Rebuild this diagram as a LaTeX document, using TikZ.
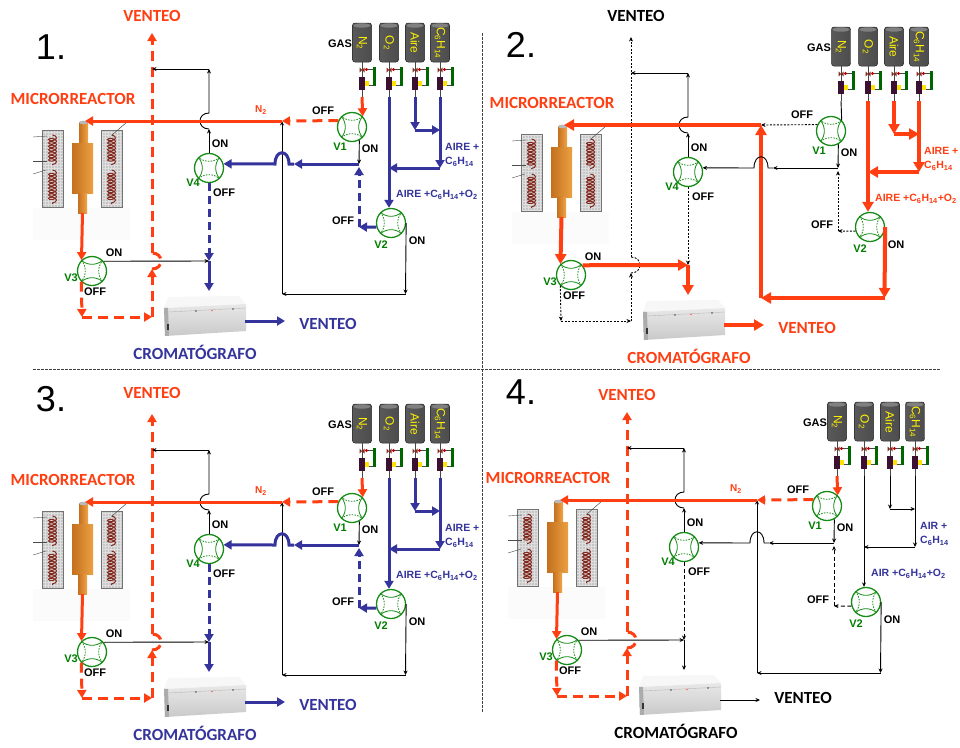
\documentclass[tikz,border=0pt]{standalone}
\usepackage{graphicx}
\usepackage{fontspec}
\setmainfont{Liberation Sans}
\newfontfamily\calib{Carlito}
\usetikzlibrary{arrows.meta,decorations.pathmorphing,patterns}

\definecolor{flowred}{RGB}{255,62,18}
\definecolor{flowblue}{RGB}{52,52,156}
\definecolor{valvegreen}{RGB}{22,140,22}
\definecolor{taggreen}{RGB}{0,125,0}
\definecolor{tubedark}{RGB}{196,112,30}
\definecolor{tubelight}{RGB}{240,165,70}
\definecolor{regpurple}{RGB}{60,16,48}
\definecolor{coilred}{RGB}{130,40,30}

\tikzset{
  thicktip/.style={-{Triangle[length=8pt,width=9pt]}},
  heavytip/.style={-{Triangle[length=10pt,width=11pt]}},
  thintip/.style={-{Stealth[length=4.5pt,width=4pt]}},
  redthick/.style={draw=flowred,line width=3pt,thicktip},
  redheavy/.style={draw=flowred,line width=4pt,heavytip},
  reddash/.style={redthick,dash pattern=on 10pt off 6pt},
  bluethick/.style={draw=flowblue,line width=3pt,thicktip},
  bluedash/.style={bluethick,dash pattern=on 8pt off 5pt},
  blackthin/.style={draw=black,line width=0.9pt,thintip},
  blackdot/.style={blackthin,dash pattern=on 2pt off 1.5pt},
  blackdash/.style={blackthin,dash pattern=on 4pt off 2.5pt},
  % flow roles (first panel values)
  ventln/.style={reddash},
  v3offln/.style={reddash},
  v3onln/.style={blackthin},
  v4offA/.style={bluedash},
  v4offB/.style={bluethick},
  v4onln/.style={blackthin},
  mainln/.style={redthick},
  mrln/.style={redthick},
  n2ln/.style={redthick},
  v1offln/.style={reddash},
  v1onA/.style={blackthin},
  v1onB/.style={bluethick},
  v2offA/.style={bluethick},
  v2offB/.style={bluedash},
  v2onln/.style={blackthin},
  gasln/.style={bluethick},
  outln/.style={bluethick},
  topvent/.style={text=flowred},
  ventbot/.style={text=flowblue},
  cromtxt/.style={text=flowblue},
  mixcol/.style={text=flowblue},
  % nodes and labels
  valve/.style={circle,draw=valvegreen,line width=1.3pt,minimum size=29pt,inner sep=0pt},
  vsolid/.style={draw=valvegreen,line width=0.8pt},
  vdash/.style={vsolid,dash pattern=on 1.6pt off 1.2pt},
  tag/.style={font=\bfseries\fontsize{11}{12}\selectfont,inner sep=0pt},
  vtag/.style={tag,text=taggreen},
  mixtag/.style={font=\bfseries\fontsize{10.5}{12}\selectfont,inner sep=0pt,anchor=west,mixcol},
  bigtag/.style={font=\calib\bfseries\fontsize{17}{18}\selectfont,inner sep=0pt},
  numtag/.style={font=\fontsize{36}{36}\selectfont,inner sep=0pt},
  cyltext/.style={text=yellow,font=\fontsize{12}{12}\selectfont,inner sep=0pt},
  sep/.style={draw=black!75,line width=0.6pt,dash pattern=on 2.5pt off 1.5pt},
}

% four-way valve: inner curved square
\newcommand\valveicon[3]{%
  \draw[#2] (#1.45) to[bend left=40] (#1.135);
  \draw[#3] (#1.135) to[bend left=40] (#1.225);
  \draw[#2] (#1.225) to[bend left=40] (#1.315);
  \draw[#3] (#1.315) to[bend left=40] (#1.45);
}

% gas cylinder with regulator; #1 x, #2 name, #3 label
\newcommand\gascyl[3]{%
  \shade[left color=black!65,middle color=gray!30,right color=black!70,draw=black!85,line width=0.5pt,rounded corners=2.5pt]
    (#1-9.5,62) -- (#1-9.5,23) -- (#1+9.5,23) -- (#1+9.5,62) -- cycle;
  \fill[black!50] (#1,25.5) ellipse[x radius=8.5,y radius=2.2];
  \node[cyltext] (#2) at (#1,43) {\rotatebox{-90}{#3}};
  \draw[gray!55!black,line width=0.6pt] (#1,62) -- (#1,77);
  \fill[coilred] (#1-2.5,67.5) -- (#1+2.5,72.5) -- (#1+2.5,67.5) -- (#1-2.5,72.5) -- cycle;
  \fill[red!75!black] (#1+4.5,69.5) circle[radius=1.6];
  \draw[gray!55!black,line width=0.4pt] (#1+6,69.5) -- (#1+11.5,69.5);
  \fill[green!40!black] (#1+11,67) rectangle (#1+14,86);
  \fill[regpurple] (#1-3,77) rectangle (#1+3,90);
  \fill[yellow!85!orange] (#1+3,80.5) rectangle (#1+6.5,85.5);
  \draw[gray!55!black,line width=0.4pt] (#1+6.5,85) -- (#1+11,85);
  \draw[gray!55!black,line width=0.8pt] (#1,90) -- (#1,97);
  \coordinate (#2reg) at (#1,97);
}

% furnace with the reactor column
\newcommand\furnace{%
  \fill[gray!3] (33,208) rectangle (130,240);
  \foreach \px in {42,101}{%
    \fill[gray!45] (\px,130) rectangle (\px+21,207);
    \fill[pattern=grid,pattern color=white!75!gray] (\px,130) rectangle (\px+21,207);
    \draw[black!55,line width=0.5pt] (\px,130) rectangle (\px+21,207);
    \draw[coilred,line width=1pt,decorate,decoration={coil,aspect=0.5,segment length=3.4pt,amplitude=4pt}] (\px+10.5,135) -- (\px+10.5,165);
    \draw[coilred,line width=1pt,decorate,decoration={coil,aspect=0.5,segment length=3.4pt,amplitude=4pt}] (\px+10.5,170) -- (\px+10.5,204);
  }
  \draw[black!70,line width=0.4pt] (33,137) -- (47,136);
  \draw[black!70,line width=0.4pt] (33,161) -- (47,161);
  \draw[black!70,line width=0.4pt] (33,174) -- (46,170);
  \draw[gray!60!black,line width=0.5pt] (127,122) -- (112,135);
  \shade[left color=tubedark,right color=tubelight] (79,122) rectangle (88,146);
  \fill[gray!55] (83.5,122.5) ellipse[x radius=4.5,y radius=1.8];
  \shade[left color=tubedark,right color=tubelight!90!tubedark] (72,143) rectangle (93,193);
  \shade[left color=tubedark,right color=tubelight] (78,193) rectangle (87,213);
  \coordinate (mrin) at (85,121);
  \coordinate (mrout) at (82.5,213);
}

% gas chromatograph box
\newcommand\chromatograph{%
  \fill[gray!6] (168,297) -- (239,296) -- (246,304) -- (164,308) -- cycle;
  \shade[top color=gray!18,bottom color=gray!42] (164,308) -- (246,304) -- (246,331) -- (165,336) -- cycle;
  \fill[gray!65] (164,308) -- (168,307.8) -- (169,335.8) -- (165,336) -- cycle;
  \draw[gray!55,line width=0.4pt] (168,312) -- (246,308);
  \fill[black!80] (167,324) rectangle (169,330);
  \fill[black!70] (196,311) circle[radius=0.9];
  \fill[red!60] (212,310.5) circle[radius=0.8];
  \fill[black!70] (233,309) circle[radius=0.8];
  \node[inner sep=0pt,minimum width=82pt,minimum height=40pt] (GC) at (205,316) {};
  \coordinate (gcin) at (209,291);
  \coordinate (gcout) at (245,321);
}

% one flow scheme; #1 air word, #2 nitrogen tag
\newcommand\drawpanel[2]{%
  \furnace
  \chromatograph
  \gascyl{362}{n2}{N\textsubscript{2}}
  \gascyl{389}{o2}{O\textsubscript{2}}
  \gascyl{415}{aire}{Aire}
  \gascyl{440}{c6}{C\textsubscript{6}H\textsubscript{14}}
  % valves
  \node[valve] (V1) at (352,127) {};
  \node[valve] (V2) at (391,223) {};
  \node[valve] (V3) at (92,271) {};
  \node[valve] (V4) at (209,168) {};
  \valveicon{V1}{vdash}{vsolid}
  \valveicon{V2}{vsolid}{vdash}
  \valveicon{V3}{vsolid}{vdash}
  \valveicon{V4}{vdash}{vsolid}
  % junctions and corners
  \coordinate (jN) at (282,121);
  \coordinate (ventTop) at (152,33);
  \coordinate (ventJ) at (152,69);
  \coordinate (c4) at (209,69);
  \coordinate (hopHi) at (152,253);
  \coordinate (hopLo) at (152,269);
  \coordinate (loopA) at (82,317);
  \coordinate (loopB) at (152,317);
  \coordinate (jC) at (209,261);
  \coordinate (hop4lo) at (209,129);
  \coordinate (hop4hi) at (209,113);
  \coordinate (jB) at (359,164);
  \coordinate (jBup) at (359,167);
  \coordinate (hopBa) at (294,164);
  \coordinate (hopBr) at (289,164);
  \coordinate (hopBl) at (275,164);
  \coordinate (v2c) at (359,227);
  \coordinate (rectR) at (405.5,294);
  \coordinate (rectL) at (282,294);
  \coordinate (aireBend) at (415,130);
  \coordinate (aireJoin) at (440,130);
  \coordinate (c6Bend) at (440,168);
  \coordinate (o2Join) at (389,168);
  \coordinate (ventOut) at (285,321);
  % vent line
  \draw[ventln] (hopHi) -- (ventTop);
  \draw[ventln,-] (hopLo) .. controls (164,269) and (164,253) .. (hopHi);
  \draw[v3offln] (V3.225) -- (loopA);
  \draw[v3offln] (loopA) -- (loopB);
  \draw[v3offln] (loopB) -- (hopLo);
  % V3 and V4 outlets
  \draw[v3onln] (V3.40) -- (jC);
  \draw[v4offA] (V4.south) -- (jC);
  \draw[v4offB] (jC) -- (gcin);
  \draw[v4onln] (V4.north) -- (hop4lo);
  \draw[v4onln] (hop4lo) .. controls (197,129) and (197,113) .. (hop4hi) -- (c4);
  \draw[v4onln] (c4) -- (ventJ);
  % V2 outlets
  \draw[v2onln] (V2.east) -- (rectR);
  \draw[v2onln] (rectR) -- (rectL);
  \draw[v2onln] (rectL) -- (jN);
  \draw[v2offA] (V2.196) -- (v2c);
  \draw[v2offB] (v2c) -- (jBup);
  % reactor feed and V1
  \draw[mainln] (jN) -- (mrin);
  \draw[mrln] (mrout) -- (V3.134);
  \draw[n2ln] (n2reg) -- (V1.45);
  \draw[v1offln] (V1.155) -- (jN);
  \draw[v1onA] (V1.299) -- (jB);
  \draw[v1onB] (jB) -- (hopBa);
  \draw[v1onB] (hopBa) -- (hopBr) .. controls (289,149) and (275,149) .. (hopBl) -- (V4.16);
  % gas feed lines
  \draw[gasln] (o2reg) -- (o2reg |- V2.north);
  \draw[gasln] (airereg) -- (aireBend);
  \draw[gasln] (aireBend) -- (aireJoin);
  \draw[gasln] (c6reg) -- (c6Bend);
  \draw[gasln] (c6Bend) -- (o2Join);
  \draw[outln] (gcout) -- (ventOut);
  % labels
  \node[vtag] (tV1) at (340,147) {V1};
  \node[vtag] (tV2) at (381,245) {V2};
  \node[vtag] (tV3) at (71,278) {V3};
  \node[vtag] (tV4) at (193,183) {V4};
  \node[tag] (onV1) at (370,149) {ON};
  \node[tag] (offV1) at (323,111) {OFF};
  \node[tag] (onV2) at (417,241) {ON};
  \node[tag] (offV2) at (343,221) {OFF};
  \node[tag] (onV3) at (114,253) {ON};
  \node[tag] (offV3) at (95,292) {OFF};
  \node[tag] (onV4) at (220,144) {ON};
  \node[tag] (offV4) at (224,193) {OFF};
  \node[tag] (lgas) at (340,44) {GAS};
  \node[tag,text=flowred,font=\bfseries\fontsize{10}{12}\selectfont] (lN2) at (261,110) {#2};
  \node[mixtag] (lmix1) at (445,147) {#1 +};
  \node[mixtag] (lmix2) at (445,162) {C\textsubscript{6}H\textsubscript{14}};
  \node[mixtag] (lmix3) at (396,195) {#1 +C\textsubscript{6}H\textsubscript{14}+O\textsubscript{2}};
  \node[bigtag,topvent] (lvt) at (152,16) {VENTEO};
  \node[bigtag,text=flowred] (lmr) at (73,99) {MICRORREACTOR};
  \node[bigtag,ventbot] (lvb) at (328,324) {VENTEO};
  \node[bigtag,cromtxt] (lgc) at (195,352) {CROMATÓGRAFO};
}

\begin{document}
\begin{tikzpicture}[x=1pt,y=-1pt]
\useasboundingbox (0,0) rectangle (960,747);
\fill[white] (0,0) rectangle (960,747);
\coordinate (sepL) at (33,369);
\coordinate (sepR) at (940,369);
\coordinate (sepT) at (482,33);
\coordinate (sepB) at (482,712);
\draw[sep] (sepL) -- (sepR);
\draw[sep] (sepT) -- (sepB);

\begin{scope}[name prefix=a-]
  \drawpanel{AIRE}{N\textsubscript{2}}
\end{scope}

\begin{scope}[shift={(479,4)},name prefix=b-,
  ventln/.style={blackdot}, v3offln/.style={blackdot}, v3onln/.style={redheavy},
  v4offA/.style={blackdot}, v4offB/.style={redheavy}, mainln/.style={redheavy},
  mrln/.style={redheavy}, n2ln/.style={blackthin,-}, v1offln/.style={blackdot},
  v1onB/.style={blackthin}, v2offA/.style={blackdot}, v2offB/.style={blackdot},
  v2onln/.style={redheavy}, gasln/.style={redheavy}, outln/.style={redheavy},
  topvent/.style={text=black,xshift=5pt,yshift=4pt}, ventbot/.style={text=flowred},
  cromtxt/.style={text=flowred,xshift=15pt}, mixcol/.style={text=flowred}]
  \drawpanel{AIRE}{}
\end{scope}

\begin{scope}[shift={(0,381)},name prefix=c-,
  topvent/.style={text=flowred,yshift=4pt}]
  \drawpanel{AIRE}{N\textsubscript{2}}
\end{scope}

\begin{scope}[shift={(475,379)},name prefix=d-,
  v4offA/.style={blackdash}, v4offB/.style={blackthin}, v1onB/.style={blackthin},
  v2offA/.style={blackdash}, v2offB/.style={blackdash}, gasln/.style={blackthin},
  outln/.style={blackthin}, ventbot/.style={text=black,yshift=5pt},
  cromtxt/.style={text=black,xshift=6pt}]
  \drawpanel{AIR}{N\textsubscript{2}}
\end{scope}

\node[numtag] (num1) at (51,47) {1.};
\node[numtag] (num2) at (521,45) {2.};
\node[numtag] (num3) at (51,399) {3.};
\node[numtag] (num4) at (521,392) {4.};
\end{tikzpicture}
\end{document}
